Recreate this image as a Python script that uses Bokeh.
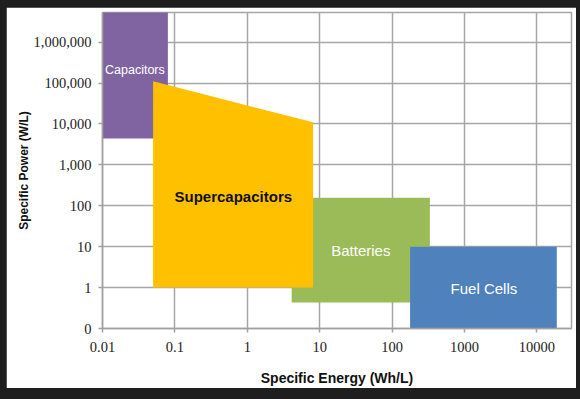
from bokeh.plotting import figure
from bokeh.models import FixedTicker, Label, CustomJSTickFormatter, Range1d
from bokeh.embed import file_html
from bokeh.resources import INLINE

# ---- data ----
energy_ticks = [0.01, 0.1, 1, 10, 100, 1000, 10000]
energy_tick_labels = ["0.01", "0.1", "1", "10", "100", "1000", "10000"]
power_ticks = [0.1, 1, 10, 100, 1000, 10000, 100000, 1000000]
power_tick_labels = ["0", "1", "10", "100", "1,000", "10,000", "100,000", "1,000,000"]

rect_names = ["Capacitors", "Batteries", "Fuel Cells"]
rect_energy_min = [0.01, 4.1, 177]
rect_energy_max = [0.08, 332, 18800]
rect_power_min = [4400, 0.43, 0.1]
rect_power_max = [1e7, 158, 10]
rect_colors = ["#8064A2", "#9BBB59", "#4F81BD"]

supercap_energy = [0.05, 0.05, 8.1, 8.1]
supercap_power = [1, 1.1e5, 1.1e4, 1]
supercap_color = "#FFC000"

# ---- figure ----
p = figure(width=570, height=381, x_axis_type="log", y_axis_type="log",
           x_range=Range1d(0.01, 30000), y_range=Range1d(0.1, 5.3e6),
           output_backend="svg", toolbar_location=None,
           min_border_left=96, min_border_top=5, min_border_right=5, min_border_bottom=60)
p.margin = (7, 0, 0, 6)
p.background_fill_color = "white"
p.border_fill_color = "white"
p.outline_line_color = "#A6A6A6"
p.outline_line_width = 1.5

p.quad(left=rect_energy_min, right=rect_energy_max, bottom=rect_power_min, top=rect_power_max,
       fill_color=rect_colors, line_color=None)
p.patch(supercap_energy, supercap_power, fill_color=supercap_color, line_color=None)

fmt_code = """
const i = tvals.findIndex(t => Math.abs(Math.log10(t) - Math.log10(tick)) < 1e-6);
return i >= 0 ? tlabs[i] : '';
"""
p.xaxis.ticker = FixedTicker(ticks=energy_ticks, minor_ticks=[])
p.xaxis.formatter = CustomJSTickFormatter(args=dict(tvals=energy_ticks, tlabs=energy_tick_labels), code=fmt_code)
p.yaxis.ticker = FixedTicker(ticks=power_ticks, minor_ticks=[])
p.yaxis.formatter = CustomJSTickFormatter(args=dict(tvals=power_ticks, tlabs=power_tick_labels), code=fmt_code)

for ax in (p.xaxis, p.yaxis):
    ax.axis_line_color = "#A0A0A0"
    ax.axis_line_width = 1.5
    ax.major_tick_line_color = "#A0A0A0"
    ax.major_tick_line_width = 1.5
    ax.major_tick_in = 0
    ax.major_tick_out = 4
    ax.minor_tick_line_color = None
    ax.major_label_text_font = "Liberation Serif"
    ax.major_label_text_font_size = "14.5px"
    ax.major_label_text_color = "#222222"
    ax.axis_label_text_font = "Liberation Sans"
    ax.axis_label_text_font_style = "bold"
    ax.axis_label_text_color = "#111111"

p.xaxis.axis_label = "Specific Energy (Wh/L)"
p.xaxis.axis_label_text_font_size = "14px"
p.xaxis.major_label_standoff = 9
p.xaxis.axis_label_standoff = 15
p.yaxis.axis_label = "Specific Power (W/L)"
p.yaxis.axis_label_text_font_size = "12px"
p.yaxis.major_label_standoff = 7
p.yaxis.axis_label_standoff = 0

for g in (p.xgrid, p.ygrid):
    g.grid_line_color = "#A6A6A6"
    g.grid_line_width = 1.5

labels = [
    ("Capacitors", 0.028, 2.1e5, "white", "normal", "12.5px"),
    ("Supercapacitors", 0.64, 170, "#111111", "bold", "15px"),
    ("Batteries", 37, 8.0, "white", "normal", "15px"),
    ("Fuel Cells", 1850, 0.97, "white", "normal", "15px"),
]
for t, x, y, c, st, fs in labels:
    p.add_layout(Label(x=x, y=y, text=t, text_color=c, text_font="Liberation Sans",
                       text_font_style=st, text_font_size=fs,
                       text_align="center", text_baseline="middle"))

html = file_html(p, INLINE)
html = html.replace("</head>", "<style>html,body{background:#1e1e1e;}</style></head>", 1)
open("out.html", "w").write(html)
